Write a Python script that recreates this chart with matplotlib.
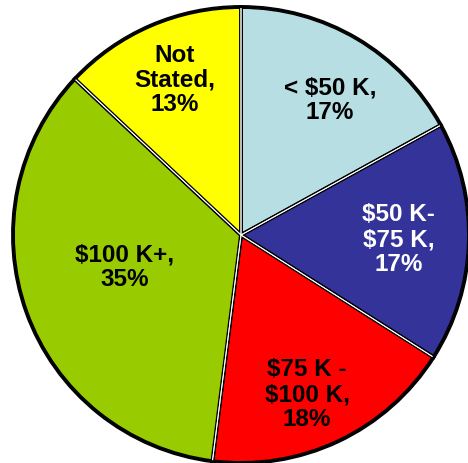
import matplotlib
matplotlib.use("Agg")
import matplotlib.pyplot as plt

categories = ["< $50 K,\n17%", "$50 K-\n$75 K,\n17%", "$75 K -\n$100 K,\n18%", "$100 K+,\n35%", "Not\nStated,\n13%"]
values = [17, 17, 18, 35, 13]
colors = ["#B7DFE3", "#333399", "#FF0000", "#99CC00", "#FFFF00"]
text_colors = ["black", "white", "black", "black", "black"]
label_pos = [(0.39, 0.59), (0.69, -0.02), (0.29, -0.70), (-0.51, -0.14), (-0.29, 0.68)]

fig = plt.figure(figsize=(4.68, 4.63), dpi=100)
ax = fig.add_axes([13/468, 0/463, 456/468, 456/463])
ax.pie(values, colors=colors, startangle=90, counterclock=False, radius=1,
       wedgeprops=dict(edgecolor="black", linewidth=2.8))
ax.pie(values, colors=colors, startangle=90, counterclock=False, radius=1,
       wedgeprops=dict(edgecolor="white", linewidth=0.7, fill=False))
ax.pie([sum(values)], colors=["white"], startangle=90, radius=1,
       wedgeprops=dict(edgecolor="black", linewidth=1.5, fill=False))
for lab, (x, y), tc in zip(categories, label_pos, text_colors):
    ax.text(x, y, lab, ha="center", va="center", color=tc, fontsize=17.5,
            fontweight="bold", family="Liberation Sans", linespacing=1.1)
ax.set_xlim(-1, 1)
ax.set_ylim(-1, 1)
ax.set_aspect("equal")
ax.axis("off")
fig.savefig("out.png", dpi=100)
